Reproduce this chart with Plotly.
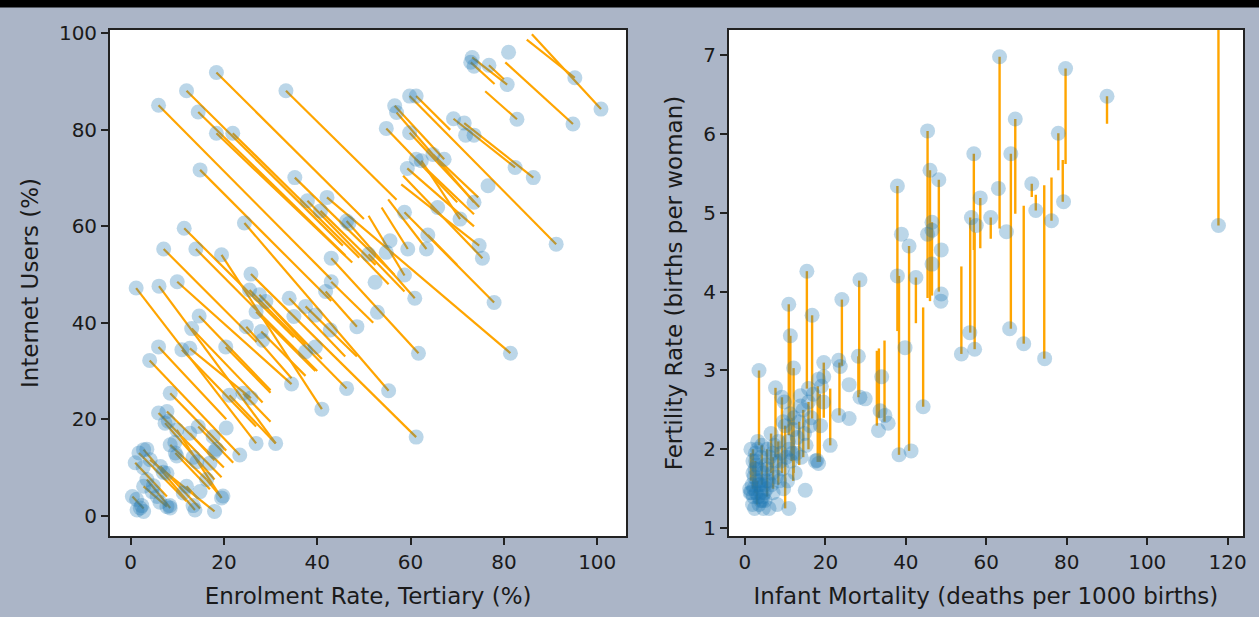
import plotly.graph_objects as go

# ---------------- Left panel data: Enrolment Rate vs Internet Users ----------------
enrol_x = [18.4, 12.0, 6.0, 14.5, 18.4, 21.9, 33.3, 14.9, 35.2, 37.9, 42.1, 40.7, 46.3, 46.8, 24.4, 11.5,
           7.1, 14.0, 19.5, 43.0, 25.8, 43.0, 51.0, 1.2, 6.1, 10.0,
           73.2, 72.9, 73.6, 76.8, 80.7, 81.0, 95.2, 100.8, 94.8, 82.8, 59.8, 61.2, 56.6, 57.0, 54.8, 59.8,
           69.2, 71.5, 71.8, 73.6, 64.8, 67.2, 61.2, 62.3, 59.3, 82.4, 86.3, 76.6, 73.6, 65.8, 58.7, 70.6,
           91.2, 63.7, 55.6, 63.4, 59.4, 54.8, 74.7, 75.4, 58.7, 52.4,
           60.9, 77.9, 52.9, 61.7, 81.4, 55.3, 61.2,
           25.5, 27.6, 29.0, 34.0, 26.9, 37.5, 39.6, 41.8, 35.0, 48.5, 42.8, 24.8, 28.0, 28.3, 14.7, 13.1,
           20.4, 11.0, 12.7, 6.0, 4.1, 37.5, 39.6, 34.5, 46.3, 41.0, 8.5, 21.2, 24.1, 25.8, 6.0, 7.8, 7.4,
           9.9, 14.5, 12.7, 20.5, 26.9, 31.1, 23.4, 17.7, 18.0, 17.0, 14.2, 9.6, 8.5, 2.8, 1.8, 1.0, 4.2,
           6.4, 7.8, 12.0, 11.3, 14.9, 16.3, 19.5, 13.8, 18.0, 4.6, 5.7, 0.4, 2.1, 1.4, 2.8, 7.8, 8.5, 3.5,
           2.8, 8.1, 3.5, 2.7, 9.5, 18.4, 13.4, 9.9, 7.0, 4.9, 2.4, 1.3, 6.3, 8.4, 13.4, 19.8]
internet_y = [91.9, 88.1, 85.1, 83.7, 79.3, 79.3, 88.1, 71.7, 70.1, 65.3, 66.0, 63.2, 61.1, 60.6, 60.7, 59.6,
              55.3, 55.3, 54.1, 53.4, 50.1, 48.5, 54.2, 47.2, 47.6, 48.5,
              95.0, 94.0, 93.2, 93.4, 89.4, 96.1, 90.8, 84.3, 81.2, 82.2, 87.0, 87.0, 85.0, 83.6, 80.3, 79.4,
              82.3, 81.4, 78.9, 78.9, 74.9, 73.9, 73.9, 73.6, 72.0, 72.2, 70.1, 68.4, 65.0, 63.9, 62.9, 61.5,
              56.3, 58.2, 57.0, 55.3, 55.3, 54.6, 56.0, 53.4, 49.9, 48.4,
              45.1, 44.2, 42.2, 33.7, 33.7, 25.9, 16.3,
              46.8, 45.8, 44.4, 45.1, 42.3, 43.4, 41.6, 46.5, 41.3, 39.2, 38.5, 39.2, 38.2, 36.4, 41.4, 38.8,
              35.0, 34.4, 34.7, 35.0, 32.2, 34.0, 35.0, 27.3, 26.4, 22.1, 25.4, 25.0, 25.4, 24.4, 21.3, 21.6, 19.2,
              17.8, 18.5, 17.1, 18.2, 15.0, 15.0, 12.6, 16.4, 13.3, 10.9, 11.2, 13.0, 14.7, 13.7, 13.0, 11.0, 11.6,
              10.2, 8.8, 6.1, 4.7, 5.0, 7.5, 3.7, 1.2, 0.9, 5.0, 4.0, 4.0, 1.6, 1.2, 0.9, 1.9, 1.6, 7.5,
              6.1, 19.6, 13.8, 10.0, 15.2, 13.8, 12.1, 12.4, 9.0, 6.2, 2.1, 3.4, 2.8, 2.1, 2.1, 4.1]

# orange segments (start -> end) on the left panel
segL_x0 = [18.4, 12.0, 6.0, 14.5, 18.4, 21.9, 33.3, 14.9, 35.2, 42.1, 37.9, 40.7, 46.3, 24.4, 11.5, 7.1,
           14.0, 19.5, 43.0, 25.8, 43.0, 1.2, 6.1, 10.0, 51.0,
           25.5, 27.6, 29.0, 26.9, 34.0, 37.5, 41.8, 24.8, 28.0, 14.7, 13.1, 20.4, 11.0, 12.7, 6.0, 4.1,
           8.5, 6.0, 7.8, 7.4, 9.9, 14.5, 12.7, 21.2, 24.1, 2.8, 1.8, 4.2, 6.4, 1.0, 3.5, 2.8, 0.4, 9.6,
           8.5, 12.0, 16.3,
           59.8, 61.2, 56.6, 57.0, 54.8, 59.8, 69.2, 71.5, 73.2, 72.9, 76.8, 80.3, 86.0, 84.9, 76.0, 59.3,
           58.0, 58.4, 64.8, 55.2, 53.8, 51.0, 58.7, 61.2, 62.3, 63.7]
segL_y0 = [91.9, 88.1, 85.1, 83.7, 79.3, 79.3, 88.1, 71.7, 70.1, 66.0, 65.3, 63.2, 61.1, 60.7, 59.6, 55.3,
           55.3, 54.1, 53.4, 50.1, 48.5, 47.2, 47.6, 48.5, 54.2,
           46.8, 45.8, 44.4, 42.3, 45.1, 43.4, 46.5, 39.2, 38.2, 41.4, 38.8, 35.0, 34.4, 34.7, 35.0, 32.2,
           25.4, 21.3, 21.6, 19.2, 17.8, 18.5, 17.1, 25.0, 25.4, 13.7, 13.0, 11.6, 10.2, 11.0, 7.5, 6.1, 4.0, 13.0,
           14.7, 6.1, 7.5,
           87.0, 87.0, 85.0, 83.6, 80.3, 79.4, 82.3, 81.4, 95.0, 94.0, 93.4, 94.0, 99.8, 98.7, 88.0, 72.0,
           68.7, 70.5, 74.9, 65.6, 63.9, 62.2, 62.9, 73.9, 73.6, 58.2]
segL_x1 = [50.0, 45.5, 43.0, 46.0, 47.5, 49.0, 57.0, 43.0, 56.5, 81.4, 55.3, 52.5, 60.9, 55.3, 35.0, 27.0,
           40.0, 41.0, 61.7, 61.2, 52.0, 26.9, 31.1, 34.5, 58.7,
           46.3, 41.0, 37.5, 39.6, 46.0, 48.5, 48.5, 34.5, 37.5, 30.0, 28.3, 30.0, 26.9, 25.8, 20.5, 23.4,
           20.5, 19.5, 20.0, 18.0, 19.5, 22.0, 18.0, 31.1, 30.0, 13.8, 12.0, 18.0, 14.9, 7.8, 8.5, 7.8, 2.8, 17.0,
           16.3, 14.5, 19.5,
           91.2, 68.5, 67.2, 73.6, 70.0, 74.7, 82.4, 86.3, 80.7, 78.0, 80.0, 94.8, 100.8, 95.2, 82.8, 73.6,
           74.7, 75.4, 74.5, 63.4, 59.4, 58.7, 77.9, 73.6, 70.6, 70.0]
segL_y1 = [61.5, 56.0, 49.0, 54.0, 52.5, 53.5, 65.5, 44.5, 50.0, 33.7, 48.0, 52.0, 45.1, 25.9, 37.0, 36.0,
           30.0, 22.1, 33.7, 16.3, 40.0, 15.0, 15.0, 27.3, 46.5,
           26.4, 32.5, 35.5, 30.0, 33.0, 33.0, 39.2, 28.5, 29.0, 26.0, 23.5, 25.5, 18.5, 24.4, 20.0, 12.6,
           13.5, 8.0, 10.0, 7.5, 3.7, 11.0, 11.5, 15.0, 19.5, 1.2, 3.0, 0.9, 1.5, 4.0, 1.6, 1.9, 1.5, 5.5,
           7.5, 3.5, 3.7,
           56.3, 80.0, 73.9, 65.0, 65.0, 64.0, 72.2, 70.1, 89.4, 89.5, 90.5, 81.2, 84.3, 90.8, 82.2, 60.0,
           56.0, 53.4, 66.0, 55.3, 55.3, 49.8, 44.2, 62.5, 61.5, 52.0]

# ---------------- Right panel data: Infant Mortality vs Fertility Rate ----------------
mort_x = [45.4, 46.0, 48.2, 37.9, 56.9, 58.5, 56.3, 57.5, 38.9, 40.8, 46.5, 45.4, 46.5, 48.8, 46.5, 37.9,
          42.5, 15.4, 28.6, 63.3, 79.7, 90.0, 67.2, 66.1, 77.9, 79.2, 63.0, 61.1, 65.0, 71.3, 72.3, 76.2,
          117.7,
          10.9, 16.7, 11.3, 12.1, 3.5, 24.1, 28.2, 7.6, 9.2, 19.6, 23.3, 23.7, 18.3, 19.6, 15.8, 13.8, 25.9,
          25.9, 23.3, 28.6, 29.9, 34.0, 33.6, 34.8, 33.2, 35.6, 39.8, 44.3, 38.3, 41.3, 48.8, 48.7, 53.8,
          55.9, 57.1, 65.8, 69.3, 74.5, 21.2, 10.9, 15.0, 18.3, 17.9,
          1.5, 2.0, 2.5, 2.2, 2.8, 3.0, 3.3, 3.5, 3.8, 4.0, 4.2, 4.5, 4.8, 5.0, 5.2, 5.5, 5.8, 6.0, 6.2,
          6.5, 6.8, 7.0, 7.3, 7.6, 8.0, 8.3, 8.6, 9.0, 9.3, 9.6, 10.0, 10.3, 10.6, 11.0, 11.4, 12.0, 12.5,
          13.0, 13.5, 14.0, 14.5, 15.2, 15.8, 16.5, 17.5, 18.8, 19.5, 1.8, 2.6, 3.6, 1.2, 2.4, 4.6, 5.4,
          3.2, 12.2, 13.8, 11.8, 9.8, 2.1, 3.9, 1.6, 2.9, 4.4, 5.1, 6.9,
          1.3, 2.3, 3.4, 4.3, 1.9, 2.7, 3.1, 3.9, 5.6, 6.6, 7.8, 8.8, 10.8, 12.8, 14.8, 16.2, 17.0, 19.0,
          9.5, 11.2, 2.0, 3.7, 4.9]
fert_y = [6.04, 5.54, 5.42, 5.34, 5.75, 5.19, 4.94, 4.84, 4.73, 4.58, 4.88, 4.73, 4.78, 4.53, 4.35, 4.20,
          4.18, 4.26, 4.15, 6.98, 6.83, 6.48, 6.19, 5.75, 6.01, 5.14, 5.31, 4.94, 4.76, 5.37, 5.03, 4.90,
          4.84,
          3.84, 3.70, 3.44, 3.03, 3.00, 3.90, 3.18, 2.78, 2.66, 3.10, 3.13, 3.05, 2.89, 2.92, 2.77, 2.68, 2.82,
          2.39, 2.43, 2.66, 2.64, 2.92, 2.49, 2.43, 2.24, 2.33, 3.29, 2.54, 1.93, 1.98, 3.97, 3.88, 3.21,
          3.48, 3.27, 3.53, 3.34, 3.15, 2.05, 1.25, 1.48, 1.82, 1.86,
          2.00, 1.85, 1.75, 1.50, 1.45, 1.60, 1.40, 1.30, 1.55, 1.90, 2.05, 1.70, 1.45, 1.35, 1.80, 2.00, 1.60,
          1.25, 1.90, 2.20, 1.70, 1.45, 2.05, 1.85, 1.30, 2.10, 1.60, 1.95, 1.75, 1.50, 2.30, 1.90, 1.60,
          2.00, 1.85, 2.25, 1.70, 2.15, 2.35, 1.90, 2.50, 2.05, 2.60, 2.40, 1.85, 2.30, 2.60, 1.55, 1.95, 1.75,
          1.50, 1.25, 1.25, 1.50, 2.10, 2.40, 2.55, 1.95, 2.60, 1.40, 1.35, 1.45, 1.80, 1.40, 1.60, 1.95,
          1.45, 1.65, 1.55, 1.35, 1.30, 1.85, 2.00, 1.45, 1.75, 1.55, 1.65, 1.85, 2.10, 1.95, 2.20, 2.30,
          2.70, 2.80, 2.35, 2.45, 1.70, 1.60, 1.55]

# orange vertical segments on the right panel
segR_x = [117.7, 90.0, 79.7, 77.9, 79.0, 63.3, 67.2, 66.1, 71.3, 72.3, 76.2, 74.4, 69.3, 61.1, 56.9, 58.5,
          56.0, 53.8, 57.1, 45.4, 46.0, 46.5, 48.2, 37.9, 38.3, 40.8, 42.5, 44.3, 28.4, 24.1, 15.4, 16.7,
          10.9, 11.3, 3.5, 12.1, 7.6, 9.2, 32.8, 33.3, 34.7, 21.2, 18.1, 18.6, 19.6, 28.2, 23.5,
          2.0, 4.2, 6.5, 8.3, 10.0, 12.0, 13.5, 14.5, 15.8, 5.5, 1.5, 3.0, 2.6, 7.0, 11.6]
segR_y0 = [4.84, 6.48, 6.83, 6.01, 5.67, 6.98, 6.19, 5.75, 5.37, 5.23, 5.45, 5.35, 5.09, 4.94, 5.75, 5.19,
           4.94, 4.32, 4.75, 6.04, 5.54, 4.88, 5.42, 5.34, 4.20, 4.58, 4.18, 3.80, 4.14, 3.90, 4.26, 3.70,
           3.84, 3.44, 3.00, 3.03, 2.78, 2.66, 3.25, 3.28, 3.38, 2.77, 2.80, 2.70, 3.10, 3.18, 3.10,
           2.00, 2.05, 2.20, 2.10, 2.30, 2.25, 2.35, 2.50, 2.60, 2.00, 1.95, 1.60, 1.85, 1.90, 2.40]
segR_y1 = [7.60, 6.13, 5.62, 5.54, 5.14, 4.80, 4.99, 3.53, 5.20, 5.03, 4.90, 3.15, 3.34, 4.67, 4.53, 4.55,
           3.48, 3.21, 3.27, 3.92, 3.88, 3.95, 4.00, 3.50, 1.93, 1.98, 3.60, 2.54, 2.70, 3.06, 2.77, 2.39,
           2.18, 2.30, 2.05, 1.70, 1.90, 1.70, 2.30, 2.40, 2.35, 2.05, 1.84, 1.84, 2.40, 2.66, 2.43,
           1.50, 1.55, 1.70, 1.55, 1.25, 1.60, 1.80, 1.90, 2.00, 1.40, 1.60, 1.30, 1.45, 1.50, 1.85]

# ---------------- build figure ----------------
ORANGE = "orange"
DOT = "rgba(31,119,180,0.3)"
BG = "rgb(171,181,199)"
FONT = "DejaVu Sans"

def seg_path(x0, y0, x1, y1):
    xs, ys = [], []
    for a, b, c, d in zip(x0, y0, x1, y1):
        xs += [a, c, None]
        ys += [b, d, None]
    return xs, ys

fig = go.Figure()

lx, ly = seg_path(segL_x0, segL_y0, segL_x1, segL_y1)
fig.add_trace(go.Scatter(x=lx, y=ly, mode="lines", line=dict(color=ORANGE, width=2.2),
                         xaxis="x", yaxis="y", hoverinfo="skip", showlegend=False))
fig.add_trace(go.Scatter(x=enrol_x, y=internet_y, mode="markers",
                         marker=dict(size=15, color=DOT, line=dict(width=0)),
                         xaxis="x", yaxis="y", showlegend=False))

rx, ry = seg_path(segR_x, segR_y0, segR_x, segR_y1)
fig.add_trace(go.Scatter(x=rx, y=ry, mode="lines", line=dict(color=ORANGE, width=2.4),
                         xaxis="x2", yaxis="y2", hoverinfo="skip", showlegend=False))
fig.add_trace(go.Scatter(x=mort_x, y=fert_y, mode="markers",
                         marker=dict(size=15, color=DOT, line=dict(width=0)),
                         xaxis="x2", yaxis="y2", showlegend=False))

axis_common = dict(showgrid=False, zeroline=False, showline=True, mirror=True,
                   linecolor="#222", linewidth=1.8, ticks="outside", ticklen=7,
                   tickwidth=1.5, tickcolor="#222",
                   tickfont=dict(family=FONT, size=20, color="#1a1a1a"))
title_font = dict(family=FONT, size=23, color="#1a1a1a")

W, H = 1259, 617
L, R, T, B = 110, 12, 30, 80
pw = W - L - R
fig.update_layout(
    width=W, height=H,
    margin=dict(l=L, r=R, t=T, b=B, pad=0),
    paper_bgcolor=BG, plot_bgcolor="white",
    xaxis=dict(domain=[0, (628 - L) / pw], range=[-4.4, 106.2], tickvals=[0, 20, 40, 60, 80, 100],
               title=dict(text="Enrolment Rate, Tertiary (%)", font=title_font, standoff=15),
               **axis_common),
    yaxis=dict(domain=[0, 1], range=[-4.2, 100.7], tickvals=[0, 20, 40, 60, 80, 100],
               title=dict(text="Internet Users (%)", font=title_font, standoff=14),
               anchor="x", **axis_common),
    xaxis2=dict(domain=[(731 - L) / pw, 1], range=[-4.0, 123.8], tickvals=[0, 20, 40, 60, 80, 100, 120],
                title=dict(text="Infant Mortality (deaths per 1000 births)", font=title_font, standoff=15),
                anchor="y2", **axis_common),
    yaxis2=dict(domain=[0, 1], range=[0.9, 7.32], tickvals=[1, 2, 3, 4, 5, 6, 7],
                title=dict(text="Fertility Rate (births per woman)", font=title_font, standoff=14),
                anchor="x2", **axis_common),
    shapes=[dict(type="rect", xref="paper", yref="paper", x0=-0.2, x1=1.2,
                 y0=(H - B - 7.5) / (H - T - B), y1=1.2, fillcolor="black", line=dict(width=0),
                 layer="above")],
)

fig.write_html("out.html")
